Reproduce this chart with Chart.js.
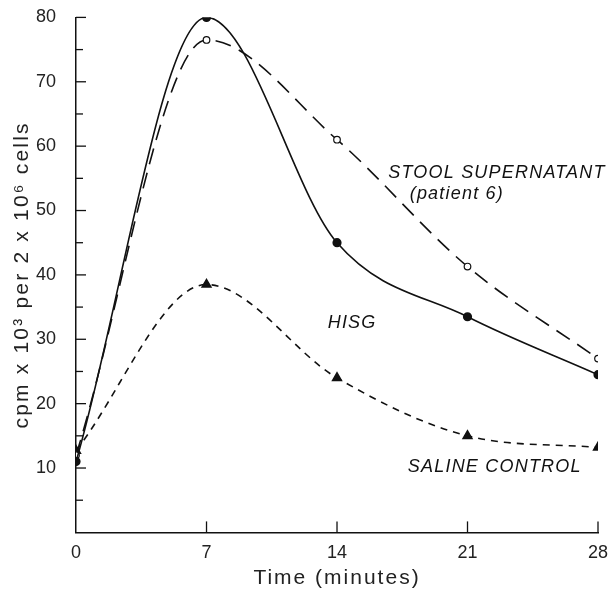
<!DOCTYPE html>
<html>
<head>
<meta charset="utf-8">
<script src="https://cdn.jsdelivr.net/npm/chart.js@4"></script>
<style>
  html, body { margin: 0; padding: 0; background: #fff; }
  #wrap { width: 614px; height: 594px; }
</style>
</head>
<body>
<div id="wrap"><canvas id="chart" width="614" height="594"></canvas></div>
<script>
// Time points (minutes)
const times = [0, 7, 14, 21, 28];

// cpm x 10^3 per 2 x 10^6 cells
const hisg = [11, 80, 45, 33.5, 24.5];
const stool = [12, 76.5, 61, 41.3, 27];
const saline = [12.7, 38.5, 24, 15, 13.2];

const xTicks = [0, 7, 14, 21, 28];
const yTickStep = 5;

const xTitle = 'Time (minutes)';
const yTitle = 'cpm x 10³ per 2 x 10⁶ cells';

const FONT = '"Liberation Sans", Arial, sans-serif';

function pts(vals) {
    return times.map((t, i) => ({ x: t, y: vals[i] }));
}

// Inside tick marks + axis titles
const axisExtras = {
    id: 'axisExtras',
    afterDraw(chart) {
        const ctx = chart.ctx;
        const { left, right, top, bottom } = chart.chartArea;
        const xs = chart.scales.x, ys = chart.scales.y;
        ctx.save();
        ctx.strokeStyle = '#111';
        ctx.lineWidth = 1.3;
        ys.ticks.forEach(t => {
            if (t.value <= 0) return;
            const y = ys.getPixelForValue(t.value);
            const len = t.value % 10 === 0 ? 10 : 7;
            ctx.beginPath();
            ctx.moveTo(left, y);
            ctx.lineTo(left + len, y);
            ctx.stroke();
        });
        xTicks.forEach(v => {
            if (v === 0) return;
            const x = xs.getPixelForValue(v);
            ctx.beginPath();
            ctx.moveTo(x, bottom);
            ctx.lineTo(x, bottom - 11);
            ctx.stroke();
        });

        ctx.fillStyle = '#222';
        ctx.textAlign = 'center';
        ctx.textBaseline = 'middle';
        ctx.font = '21px ' + FONT;
        ctx.letterSpacing = '2px';
        ctx.fillText(xTitle, (left + right) / 2, 578);

        ctx.translate(22, (top + bottom) / 2);
        ctx.rotate(-Math.PI / 2);
        ctx.letterSpacing = '2.2px';
        ctx.fillText(yTitle, 0, 0);
        ctx.restore();
    }
};

// Curve labels written next to the lines
const curveLabels = {
    id: 'curveLabels',
    afterDraw(chart) {
        const ctx = chart.ctx;
        const xs = chart.scales.x, ys = chart.scales.y;
        const notes = [
            { text: 'STOOL SUPERNATANT', x: 16.75, y: 55.9 },
            { text: '(patient 6)', x: 17.9, y: 52.6 },
            { text: 'HISG', x: 13.5, y: 32.5 },
            { text: 'SALINE CONTROL', x: 17.8, y: 10.1 }
        ];
        ctx.save();
        ctx.fillStyle = '#111';
        ctx.font = 'italic 18px ' + FONT;
        ctx.letterSpacing = '1.2px';
        ctx.textBaseline = 'middle';
        ctx.textAlign = 'left';
        notes.forEach(n => {
            ctx.fillText(n.text, xs.getPixelForValue(n.x), ys.getPixelForValue(n.y));
        });
        ctx.restore();
    }
};

new Chart(document.getElementById('chart'), {
    type: 'line',
    data: {
        datasets: [
            {
                label: 'HISG',
                data: pts(hisg),
                borderColor: '#111',
                borderWidth: 1.6,
                pointStyle: 'circle',
                pointRadius: 3.8,
                pointBackgroundColor: '#111',
                pointBorderColor: '#111',
                cubicInterpolationMode: 'monotone'
            },
            {
                label: 'Stool supernatant (patient 6)',
                data: pts(stool),
                borderColor: '#111',
                borderWidth: 1.6,
                borderDash: [16, 9],
                pointStyle: 'circle',
                pointRadius: 3.3,
                pointBackgroundColor: '#fff',
                pointBorderColor: '#111',
                pointBorderWidth: 1.2,
                cubicInterpolationMode: 'monotone'
            },
            {
                label: 'Saline control',
                data: pts(saline),
                borderColor: '#111',
                borderWidth: 1.6,
                borderDash: [7, 6],
                pointStyle: 'triangle',
                pointRadius: 5,
                pointBackgroundColor: '#111',
                pointBorderColor: '#111',
                cubicInterpolationMode: 'monotone'
            }
        ]
    },
    options: {
        responsive: false,
        animation: false,
        layout: { padding: { top: 4, right: 16, left: 24, bottom: 28 } },
        plugins: {
            legend: { display: false },
            tooltip: { enabled: false }
        },
        scales: {
            x: {
                type: 'linear',
                min: 0,
                max: 28,
                afterBuildTicks: axis => { axis.ticks = xTicks.map(v => ({ value: v })); },
                grid: { display: false },
                border: { display: true, color: '#111', width: 1.5 },
                ticks: {
                    color: '#222',
                    padding: 2,
                    font: { family: FONT, size: 18 }
                }
            },
            y: {
                min: 0,
                max: 80,
                ticks: {
                    stepSize: yTickStep,
                    color: '#222',
                    padding: 12,
                    autoSkip: false,
                    callback: v => (v > 0 && v % 10 === 0 ? v : ''),
                    font: { family: FONT, size: 18, lineHeight: 0.6 }
                },
                grid: { display: false },
                border: { display: true, color: '#111', width: 1.5 }
            }
        }
    },
    plugins: [axisExtras, curveLabels]
});
</script>
</body>
</html>
